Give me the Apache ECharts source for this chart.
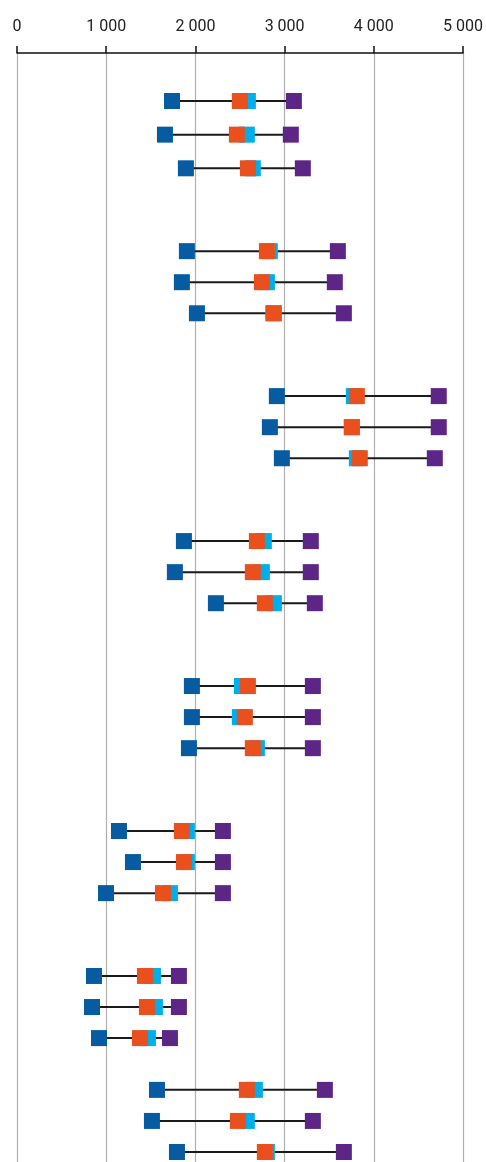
<!DOCTYPE html>
<html>
<head>
<meta charset="utf-8">
<script src="https://cdn.jsdelivr.net/npm/echarts@6/dist/echarts.min.js"></script>
<style>
  html, body { margin: 0; padding: 0; background: #ffffff; }
  #chart { width: 486px; height: 1162px; }
</style>
</head>
<body>
<div id="chart"></div>
<script>
// ---- Data ----
const rowNames = [
  'A1','A2','A3','B1','B2','B3','C1','C2','C3','D1','D2','D3',
  'E1','E2','E3','F1','F2','F3','G1','G2','G3','H1','H2','H3'
];
const lowValues = [1730,1651,1885, 1896,1840,2008, 2900,2822,2956, 1863,1762,2220,
                   1952,1952,1919, 1138,1294,993, 859,837,915, 1562,1506,1785];
const highValues = [3090,3056,3190, 3581,3547,3648, 4707,4707,4663, 3279,3279,3324,
                    3302,3302,3302, 2298,2298,2298, 1807,1807,1707, 3436,3302,3648];
const orangeValues = [2487,2454,2577, 2789,2733,2867, 3793,3737,3826, 2677,2632,2766,
                      2577,2543,2632, 1840,1863,1629, 1428,1450,1372, 2565,2465,2766];
const cyanValues = [2577,2565,2632, 2822,2789,2860, 3759,3737,3793, 2755,2733,2867,
                    2510,2487,2677, 1896,1896,1707, 1517,1539,1461, 2655,2565,2789];
const xTicks = [0, 1000, 2000, 3000, 4000, 5000];

// ---- Layout (category slots between rows) ----
const slotGaps = [13,13,32,12,12,32,12,12,32,12,12,32,12,12,32,12,12,32,12,12,20,12,12];
const categories = [];
rowNames.forEach((name, i) => {
  categories.push(name);
  if (i < slotGaps.length) {
    for (let k = 1; k < slotGaps[i]; k++) categories.push('');
  }
});

const pair = (vals) => vals.map((v, i) => [v, rowNames[i]]);

const chart = echarts.init(document.getElementById('chart'), null, { renderer: 'canvas' });
const fmt = (v) => String(v).replace(/\B(?=(\d{3})+(?!\d))/g, ' ');

chart.setOption({
  animation: false,
  backgroundColor: '#ffffff',
  grid: [
    { left: 17, right: 21, top: 53, bottom: 0 },
    { left: 17, right: 21, top: 101, bottom: 10 }
  ],
  xAxis: [
    {
      gridIndex: 0, type: 'value', position: 'top',
      min: xTicks[0], max: xTicks[xTicks.length - 1], interval: 1000,
      axisLine: { show: true, onZero: false, lineStyle: { color: '#111', width: 1.5 } },
      axisTick: { show: true, length: 7, lineStyle: { color: '#111', width: 1.5 } },
      axisLabel: { margin: 18, formatter: fmt, color: '#222', fontFamily: 'Roboto', fontSize: 16 },
      splitLine: { show: true, lineStyle: { color: '#b0b0b0', width: 1.2 } }
    },
    {
      gridIndex: 1, type: 'value', min: 0, max: 5000, show: false,
      splitLine: { show: false }
    }
  ],
  yAxis: [
    { gridIndex: 0, type: 'value', show: false, min: 0, max: 1, splitLine: { show: false } },
    {
      gridIndex: 1, type: 'category', data: categories, inverse: true,
      boundaryGap: false, show: false
    }
  ],
  series: [
    {
      type: 'custom', xAxisIndex: 1, yAxisIndex: 1,
      data: rowNames.map((n, i) => [lowValues[i], highValues[i], n]),
      encode: { x: [0, 1], y: 2 },
      renderItem: function (params, api) {
        const p1 = api.coord([api.value(0), api.value(2)]);
        const p2 = api.coord([api.value(1), api.value(2)]);
        return {
          type: 'line',
          shape: { x1: p1[0], y1: p1[1], x2: p2[0], y2: p2[1] },
          style: { stroke: '#1a1a1a', lineWidth: 2 }
        };
      },
      z: 1
    },
    { type: 'scatter', xAxisIndex: 1, yAxisIndex: 1, symbol: 'rect', symbolSize: 16,
      itemStyle: { color: '#075ba0', opacity: 1 }, data: pair(lowValues), z: 2 },
    { type: 'scatter', xAxisIndex: 1, yAxisIndex: 1, symbol: 'rect', symbolSize: 16,
      itemStyle: { color: '#00aeea', opacity: 1 }, data: pair(cyanValues), z: 3 },
    { type: 'scatter', xAxisIndex: 1, yAxisIndex: 1, symbol: 'rect', symbolSize: 16,
      itemStyle: { color: '#e9501d', opacity: 1 }, data: pair(orangeValues), z: 4 },
    { type: 'scatter', xAxisIndex: 1, yAxisIndex: 1, symbol: 'rect', symbolSize: 16,
      itemStyle: { color: '#5d2585', opacity: 1 }, data: pair(highValues), z: 5 }
  ]
});
</script>
</body>
</html>
